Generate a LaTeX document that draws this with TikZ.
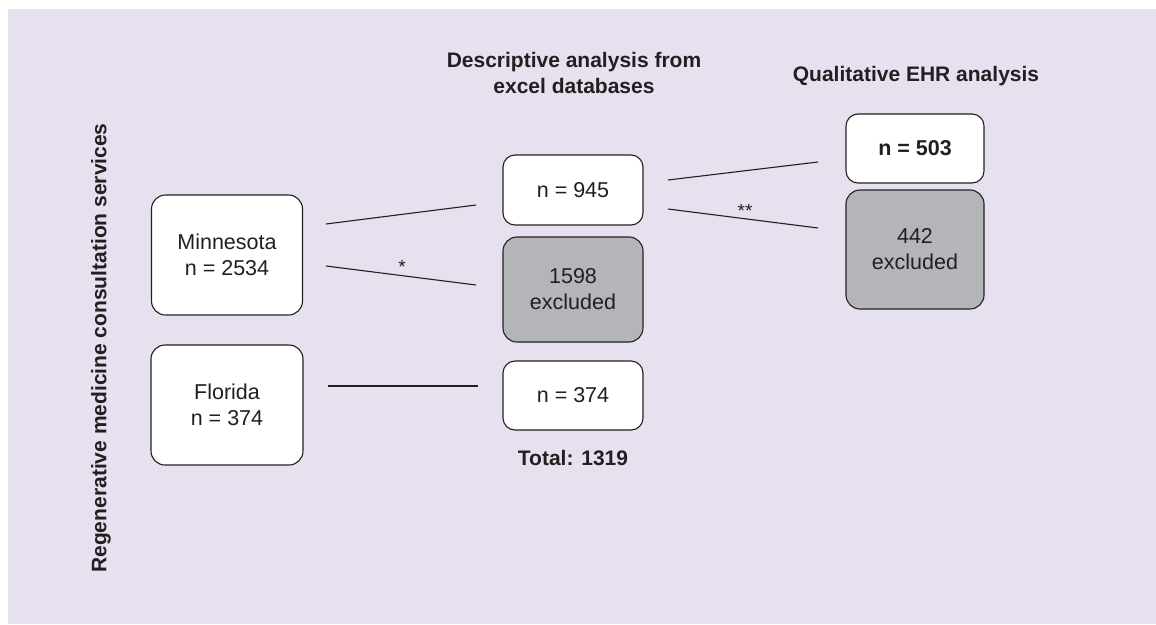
\documentclass[tikz,border=0pt]{standalone}
\usepackage{fontspec}
\setmainfont{Liberation Sans}
\definecolor{bg}{HTML}{E6E0EF}
\definecolor{ink}{HTML}{231F20}
\definecolor{exfill}{HTML}{B4B5B8}
\begin{document}
\begin{tikzpicture}[x=1pt,y=-1pt,
  every node/.style={text=ink,font=\fontsize{21.5}{26}\selectfont},
  box/.style={draw=ink,line width=1.1pt,rounded corners=14pt,fill=white,align=center,inner sep=0pt},
  exbox/.style={box,fill=exfill},
  conn/.style={draw=ink,line width=1.1pt},
  hdr/.style={font=\fontsize{21}{26}\selectfont\bfseries,align=center},
  star/.style={font=\fontsize{19}{19}\selectfont}]
\useasboundingbox (0,0) rectangle (1156,624);
\fill[bg] (8,9) rectangle (1156,624);

\node[hdr,rotate=90] (side) at (101,348) {Regenerative medicine consultation services};
\node[hdr] (h1) at (574,73) {Descriptive analysis from\\excel databases};
\node[hdr] (h2) at (916,76) {Qualitative EHR analysis};

\node[box,minimum width=151pt,minimum height=120pt] (mn) at (227,255) {Minnesota\\n = 2534};
\node[box,minimum width=152pt,minimum height=120pt] (fl) at (227,405) {Florida\\n = 374};

\node[box,minimum width=140pt,minimum height=70pt,rounded corners=12pt] (n945) at (573,190) {n = 945};
\node[exbox,minimum width=140pt,minimum height=105pt] (ex1598) at (573,289.5) {1598\\excluded};
\node[box,minimum width=140pt,minimum height=69pt,rounded corners=12pt] (n374) at (573,395.5) {n = 374};
\node[font=\fontsize{21}{26}\selectfont\bfseries] (tot) at (573,458) {Total: 1319};

\node[box,minimum width=138pt,minimum height=69pt,rounded corners=12pt,font=\fontsize{21.5}{26}\selectfont\bfseries] (n503) at (915,148.5) {n = 503};
\node[exbox,minimum width=138pt,minimum height=119pt] (ex442) at (915,249.5) {442\\excluded};

% connector end points
\coordinate (a1) at (326,224);
\coordinate (a2) at (476,205);
\coordinate (b1) at (326,266);
\coordinate (b2) at (476,285);
\coordinate (c1) at (328,386);
\coordinate (c2) at (478,386);
\coordinate (d1) at (668,180);
\coordinate (d2) at (818,162);
\coordinate (e1) at (668,209);
\coordinate (e2) at (818,228);

\draw[conn] (a1) -- (a2);
\draw[conn] (b1) -- (b2);
\draw[conn] (c1) -- (c2);
\draw[conn] (d1) -- (d2);
\draw[conn] (e1) -- (e2);

\node[star] (s1) at (402,267) {*};
\node[star] (s2) at (745,211) {**};
\end{tikzpicture}
\end{document}
